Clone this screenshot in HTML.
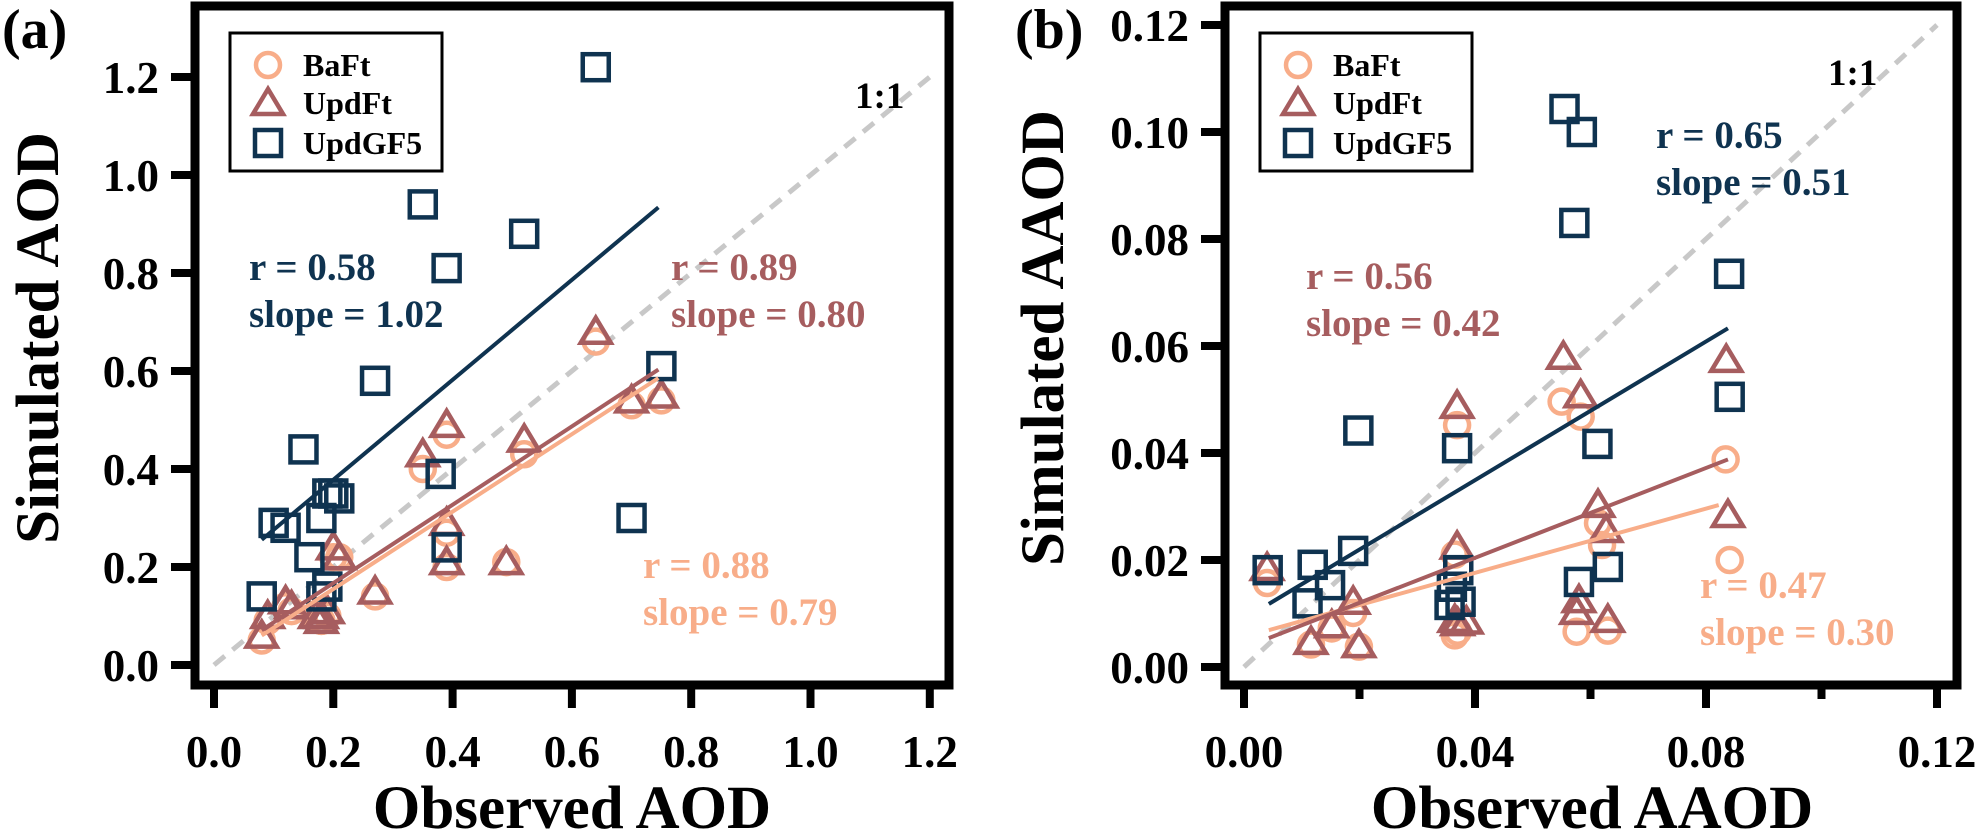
<!DOCTYPE html>
<html><head><meta charset="utf-8"><style>
html,body{margin:0;padding:0;background:#fff;}
svg{display:block;font-family:"Liberation Serif",serif;font-weight:bold;}
</style></head><body>
<svg id="fig" width="1978" height="835" viewBox="0 0 1978 835" xmlns="http://www.w3.org/2000/svg">
<g id="pa"></g>
<g id="pb"></g>
</svg>
<script>
// ---- Panel (a) data: AOD ----
const aBaFtX = [0.64,0.70,0.75,0.52,0.39,0.35,0.39,0.39,0.49,0.27,0.20,0.21,0.18,0.19,0.17,0.12,0.13,0.09,0.08,0.18];
const aBaFtY = [0.66,0.53,0.54,0.43,0.47,0.40,0.27,0.20,0.21,0.14,0.22,0.22,0.09,0.10,0.10,0.12,0.11,0.09,0.05,0.09];
const aUpdX = [0.64,0.70,0.75,0.52,0.39,0.35,0.39,0.39,0.49,0.27,0.20,0.21,0.18,0.19,0.17,0.12,0.13,0.09,0.08,0.18];
const aUpdY = [0.68,0.54,0.55,0.46,0.49,0.43,0.29,0.21,0.21,0.15,0.24,0.22,0.10,0.11,0.10,0.13,0.12,0.10,0.06,0.09];
const aGF5X = [0.64,0.35,0.52,0.39,0.27,0.75,0.15,0.38,0.20,0.21,0.19,0.18,0.10,0.12,0.70,0.39,0.16,0.19,0.18,0.08];
const aGF5Y = [1.22,0.94,0.88,0.81,0.58,0.61,0.44,0.39,0.35,0.34,0.35,0.30,0.29,0.28,0.30,0.24,0.22,0.16,0.14,0.14];
const aFitSlope = [0.79,0.80,1.02];
const aFitInt = [-0.003,0.007,0.174];
const aFitRange = [0.08,0.745];
const aTicks = ["0.0","0.2","0.4","0.6","0.8","1.0","1.2"];
const aTickVals = [0,0.2,0.4,0.6,0.8,1.0,1.2];
// ---- Panel (b) data: AAOD ----
const bBaFtX = [0.0550,0.0583,0.0369,0.0834,0.0841,0.0613,0.0620,0.0576,0.0630,0.0370,0.0365,0.0040,0.0116,0.0199,0.0152,0.0189,0.0365];
const bBaFtY = [0.0496,0.0468,0.0452,0.0388,0.0200,0.0269,0.0228,0.0066,0.0068,0.0066,0.0059,0.0157,0.0042,0.0038,0.0072,0.0101,0.0210];
const bUpdX = [0.0553,0.0583,0.0835,0.0369,0.0369,0.0613,0.0627,0.0838,0.0040,0.0189,0.0152,0.0116,0.0199,0.0365,0.0370,0.0385,0.0580,0.0576,0.0630];
const bUpdY = [0.0580,0.0508,0.0574,0.0488,0.0225,0.0303,0.0256,0.0284,0.0185,0.0122,0.0078,0.0047,0.0041,0.0088,0.0082,0.0085,0.0125,0.0103,0.0088];
const bGF5X = [0.0555,0.0585,0.0572,0.0840,0.0841,0.0198,0.0369,0.0612,0.0041,0.0119,0.0189,0.0149,0.0110,0.0371,0.0360,0.0356,0.0375,0.0580,0.0630];
const bGF5Y = [0.1043,0.1000,0.0830,0.0735,0.0505,0.0442,0.0409,0.0417,0.0181,0.0191,0.0217,0.0153,0.0119,0.0181,0.0150,0.0116,0.0122,0.0159,0.0187];
const bFitSlope = [0.30,0.42,0.648];
const bFitInt = [0.0056,0.0036,0.009];
const bFitRange = [0.0043,0.0838];
const bTicksX = ["0.00","0.04","0.08","0.12"];
const bTickXVals = [0,0.02,0.04,0.06,0.08,0.10,0.12];
const bTicksY = ["0.00","0.02","0.04","0.06","0.08","0.10","0.12"];
const bTickYVals = [0,0.02,0.04,0.06,0.08,0.10,0.12];

const NS="http://www.w3.org/2000/svg";
const C_BA="#f8ad89", C_UP="#a65d5f", C_GF="#0f3350";
function mk(parent,tag,attrs,txt){const e=document.createElementNS(NS,tag);for(const k in attrs)e.setAttribute(k,attrs[k]);if(txt!==undefined)e.textContent=txt;parent.appendChild(e);return e;}

function panel(g,cfg){
  const sx=v=>cfg.x0+v*cfg.kx, sy=v=>cfg.y0-v*cfg.ky;
  // 1:1 line
  let e=mk(g,'line',{x1:sx(0),y1:sy(0),x2:sx(cfg.oneMax),y2:sy(cfg.oneMax),stroke:'#c8c8c8','stroke-width':5,'stroke-dasharray':'14 10'});
  
  
  // BaFt circles
  cfg.baX.forEach((v,i)=>{const c=mk(g,'circle',{cx:sx(v),cy:sy(cfg.baY[i]),r:12,fill:'none',stroke:C_BA,'stroke-width':4.5});
    
    });
  // UpdFt triangles
  cfg.upX.forEach((v,i)=>{const x=sx(v),y=sy(cfg.upY[i]);const p=mk(g,'polygon',{points:`${x},${y-14} ${x-15},${y+11} ${x+15},${y+11}`,fill:'none',stroke:C_UP,'stroke-width':4.5,'stroke-linejoin':'miter'});
    
    });
  // UpdGF5 squares
  cfg.gfX.forEach((v,i)=>{const x=sx(v),y=sy(cfg.gfY[i]);const r=mk(g,'rect',{x:x-13,y:y-13,width:26,height:26,fill:'none',stroke:C_GF,'stroke-width':4.5});
    
    });
  // fits
  const cols=[C_BA,C_UP,C_GF], names=['bafit-fit-line','updft-fit-line','updgf5-fit-line'];
  cfg.fitS.forEach((s,i)=>{const a=cfg.fitR[0],b=(i===0&&cfg.baEnd)?cfg.baEnd:cfg.fitR[1];
    const l=mk(g,'line',{x1:sx(a),y1:sy(cfg.fitI[i]+s*a),x2:sx(b),y2:sy(cfg.fitI[i]+s*b),stroke:cols[i],'stroke-width':4});
    
    });
  // frame
  const f=mk(g,'rect',{x:cfg.L,y:6,width:cfg.R-cfg.L,height:685-6,fill:'none',stroke:'#000','stroke-width':9});
  
  
  // x ticks
  cfg.xtv.forEach((v,i)=>{const major=cfg.xMajor(i);const t=mk(g,'line',{x1:sx(v),y1:689,x2:sx(v),y2:major?708:699,stroke:'#000','stroke-width':8});
    
    });
  cfg.xtl.forEach((s,i)=>{const t=mk(g,'text',{x:sx(cfg.xtlv[i]),y:767,'text-anchor':'middle','font-size':45},s);
    
    });
  cfg.ytv.forEach((v,i)=>{const t=mk(g,'line',{x1:cfg.L-24,y1:sy(v),x2:cfg.L,y2:sy(v),stroke:'#000','stroke-width':8});
    
    
    const l=mk(g,'text',{x:cfg.L-36,y:sy(v)+16,'text-anchor':'end','font-size':45},cfg.ytl[i]);
    
    });
  // titles
  let t=mk(g,'text',{x:cfg.xtc,y:828,'text-anchor':'middle','font-size':61},cfg.xt);
  
  
  t=mk(g,'text',{x:0,y:0,'text-anchor':'middle','font-size':61,transform:`translate(${cfg.ytx},338) rotate(-90)`},cfg.yt);
  
  
  t=mk(g,'text',{x:cfg.plx,y:48,'font-size':56},cfg.pl);
  
  
  t=mk(g,'text',{x:cfg.oneX,y:cfg.oneY,'font-size':37},'1:1');
  
  
  // annotations
  cfg.ann.forEach(a=>{const t1=mk(g,'text',{x:a[0],y:a[1],'font-size':39,fill:a[4]},a[2]);
    
    
    const t2=mk(g,'text',{x:a[0],y:a[1]+47,'font-size':39,fill:a[4]},a[3]);
    
    });
  // legend
  const lx=cfg.L+35;
  const lg=mk(g,'g',{});
  
  
  mk(lg,'rect',{x:lx,y:33,width:212,height:138,fill:'#fff',stroke:'#000','stroke-width':3});
  const rows=[65,103,143], labs=['BaFt','UpdFt','UpdGF5'];
  mk(lg,'circle',{cx:lx+38,cy:rows[0],r:12,fill:'none',stroke:C_BA,'stroke-width':4.5});
  const tx=lx+38,ty=rows[1];
  mk(lg,'polygon',{points:`${tx},${ty-14} ${tx-15},${ty+11} ${tx+15},${ty+11}`,fill:'none',stroke:C_UP,'stroke-width':4.5});
  mk(lg,'rect',{x:lx+25,y:rows[2]-13,width:26,height:26,fill:'none',stroke:C_GF,'stroke-width':4.5});
  labs.forEach((s,i)=>{const e=mk(lg,'text',{x:lx+73,y:rows[i]+11,'font-size':32},s);
    
    });
}

panel(document.getElementById('pa'),{
  x0:214,kx:596.5,y0:665,ky:490,L:195,R:949,oneMax:1.2,
  baX:aBaFtX,baY:aBaFtY,upX:aUpdX,upY:aUpdY,gfX:aGF5X,gfY:aGF5Y,
  fitS:aFitSlope,fitI:aFitInt,fitR:aFitRange,
  xtv:aTickVals,xMajor:()=>true,xtl:aTicks,xtlv:aTickVals,ytv:aTickVals,ytl:aTicks,
  xt:'Observed AOD',xtc:572,yt:'Simulated AOD',ytx:58,pl:'(a)',plx:2,oneX:855,oneY:108,
  ann:[[249,280,'r = 0.58','slope = 1.02',C_GF],[671,280,'r = 0.89','slope = 0.80',C_UP],[643,578,'r = 0.88','slope = 0.79',C_BA]]
});
panel(document.getElementById('pb'),{
  x0:1244,kx:5775,y0:667,ky:5350,L:1225,R:1957,oneMax:0.12,
  baX:bBaFtX,baY:bBaFtY,upX:bUpdX,upY:bUpdY,gfX:bGF5X,gfY:bGF5Y,
  fitS:bFitSlope,fitI:bFitInt,fitR:bFitRange,baEnd:0.0822,
  xtv:bTickXVals,xMajor:i=>i%2===0,xtl:bTicksX,xtlv:[0,0.04,0.08,0.12],ytv:bTickYVals,ytl:bTicksY,
  xt:'Observed AAOD',xtc:1592,yt:'Simulated AAOD',ytx:1063,pl:'(b)',plx:1015,oneX:1828,oneY:85,
  ann:[[1306,289,'r = 0.56','slope = 0.42',C_UP],[1656,148,'r = 0.65','slope = 0.51',C_GF],[1700,598,'r = 0.47','slope = 0.30',C_BA]]
});
</script>
</body></html>
